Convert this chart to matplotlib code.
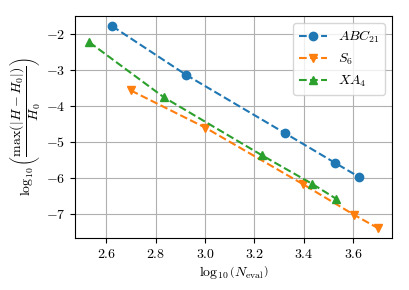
import numpy as np
import matplotlib
matplotlib.use("Agg")
import matplotlib.pyplot as plt

plt.rcParams["mathtext.fontset"] = "cm"
plt.rcParams["font.family"] = "serif"
plt.rcParams["font.serif"] = ["cmr10", "DejaVu Serif"]
plt.rcParams["axes.formatter.use_mathtext"] = True
plt.rcParams["font.size"] = 10

# log10 of number of evaluations and log10 of max relative energy error
x_abc = [2.623, 2.924, 3.322, 3.526, 3.623]
y_abc = [-1.78, -3.14, -4.75, -5.58, -5.97]

x_s6 = [2.699, 3.0, 3.398, 3.602, 3.699]
y_s6 = [-3.57, -4.60, -6.18, -7.02, -7.39]

x_xa = [2.531, 2.833, 3.230, 3.435, 3.531]
y_xa = [-2.23, -3.76, -5.37, -6.17, -6.58]

labels = [r"$ABC_{21}$", r"$S_6$", r"$XA_4$"]

fig = plt.figure(figsize=(4.09, 2.90), dpi=100)
ax = fig.add_axes([0.1834, 0.1793, 0.775, 0.7655])

ax.plot(x_abc, y_abc, "o--", label=labels[0])
ax.plot(x_s6, y_s6, "v--", label=labels[1])
ax.plot(x_xa, y_xa, "^--", label=labels[2])

ax.grid(True)
ax.set_xlabel(r"$\log_{10}\left(N_{\rm eval}\right)$", labelpad=2)
ax.set_ylabel(r"$\log_{10}\left(\dfrac{\max(|H-H_0|)}{H_0}\right)$", labelpad=2)
ax.legend(loc="upper right")

fig.savefig("out.png", dpi=100)
